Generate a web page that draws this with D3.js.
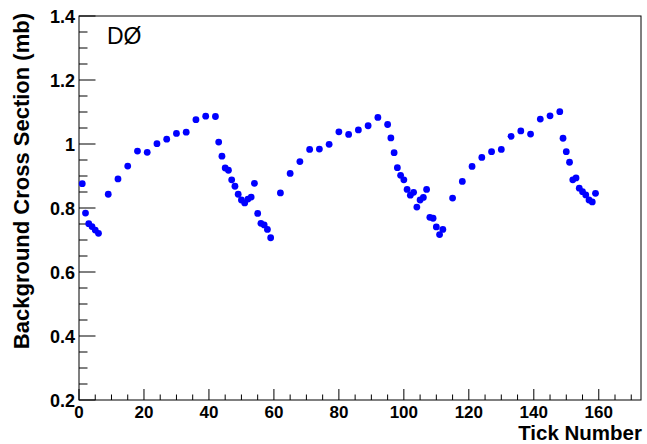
<!DOCTYPE html>
<html><head><meta charset="utf-8">
<script src="https://cdn.jsdelivr.net/npm/d3@7"></script>
<style>body{margin:0;background:#fff}svg{display:block}</style>
</head><body>
<script>
const tickNumbers = [1,2,3,4,5,6,9,12,15,18,21,24,27,30,33,36,39,42,43,44,45,46,47,48,49,50,51,52,53,54,55,56,57,58,59,
  62,65,68,71,74,77,80,83,86,89,92,95,96,97,98,99,100,101,102,103,104,105,106,107,108,109,110,111,112,
  115,118,121,124,127,130,133,136,139,142,145,148,149,150,151,152,153,154,155,156,157,158,159];
const crossSection = [0.876,0.784,0.751,0.742,0.731,0.721,0.843,0.891,0.931,0.978,0.974,1.001,1.015,1.033,1.037,1.076,1.087,1.086,
  1.006,0.962,0.925,0.918,0.888,0.868,0.843,0.825,0.816,0.828,0.834,0.877,0.783,0.752,0.747,0.733,0.707,
  0.847,0.908,0.945,0.983,0.984,0.999,1.038,1.030,1.044,1.057,1.083,1.061,1.019,0.973,0.926,0.902,0.888,0.858,0.840,0.849,0.803,0.825,0.833,0.858,0.771,0.768,0.741,0.717,0.733,
  0.831,0.883,0.930,0.958,0.976,0.983,1.024,1.041,1.031,1.078,1.088,1.101,1.018,0.976,0.943,0.888,0.894,0.862,0.851,0.841,0.825,0.819,0.846];
const xMajorTicks = [0,20,40,60,80,100,120,140,160];
const yMajorTicks = [0.2,0.4,0.6,0.8,1.0,1.2,1.4];
const xTitle = "Tick Number";
const yTitle = "Background Cross Section (mb)";
const experimentLabel = "DØ";

const W = 647, H = 444;
const m = {l:79, t:16, r:6, b:44};
const svg = d3.select("body").append("svg").attr("width", W).attr("height", H);
const x = d3.scaleLinear().domain([0,173]).range([m.l, W - m.r]);
const y = d3.scaleLinear().domain([0.2,1.4]).range([H - m.b, m.t]);
const font = "'Liberation Sans', Arial, Helvetica, sans-serif";

// frame
svg.append("rect").attr("x", x(0)).attr("y", y(1.4)).attr("width", x(173)-x(0)).attr("height", y(0.2)-y(1.4))
  .attr("fill","none").attr("stroke","#000").attr("stroke-width",1);

// x ticks
const xMinor = d3.range(0, 171, 5);
svg.append("g").selectAll("line").data(xMinor).join("line")
  .attr("x1", d=>x(d)).attr("x2", d=>x(d))
  .attr("y1", y(0.2)).attr("y2", d => y(0.2) - (d%20===0 ? 11 : 5.5))
  .attr("stroke","#000").attr("stroke-width",1);
svg.append("g").selectAll("text").data(xMajorTicks).join("text")
  .attr("x", d=>x(d)).attr("y", y(0.2)+17.5).attr("text-anchor","middle")
  .attr("font-family", font).attr("font-weight","bold").attr("font-size",17).text(d=>d);

// y ticks
const yMinor = d3.range(0, 25).map(i => 0.2 + i*0.05);
svg.append("g").selectAll("line").data(yMinor).join("line")
  .attr("x1", x(0)).attr("x2", (d,i) => x(0) + (i%4===0 ? 16.5 : 8.5))
  .attr("y1", d=>y(d)).attr("y2", d=>y(d))
  .attr("stroke","#000").attr("stroke-width",1);
svg.append("g").selectAll("text").data(yMajorTicks).join("text")
  .attr("x", x(0)-4).attr("y", d=>y(d)+6.5).attr("text-anchor","end")
  .attr("font-family", font).attr("font-weight","bold").attr("font-size",18)
  .text(d => d === 1 ? "1" : d3.format(".1f")(d));

// titles
svg.append("text").attr("x", W - 5).attr("y", 439.5).attr("text-anchor","end")
  .attr("font-family", font).attr("font-weight","bold").attr("font-size",20.5).text(xTitle);
svg.append("text").attr("transform","translate(28.5,13) rotate(-90)").attr("text-anchor","end")
  .attr("font-family", font).attr("font-weight","bold").attr("font-size",22).text(yTitle);
svg.append("text").attr("x", 107).attr("y", 43.5)
  .attr("font-family", font).attr("font-size",23).text(experimentLabel);

// points
svg.append("g").selectAll("circle").data(tickNumbers.map((t,i)=>[t, crossSection[i]])).join("circle")
  .attr("cx", d=>x(d[0])).attr("cy", d=>y(d[1])).attr("r", 3.4).attr("fill","#0000ff");
</script>
</body></html>
